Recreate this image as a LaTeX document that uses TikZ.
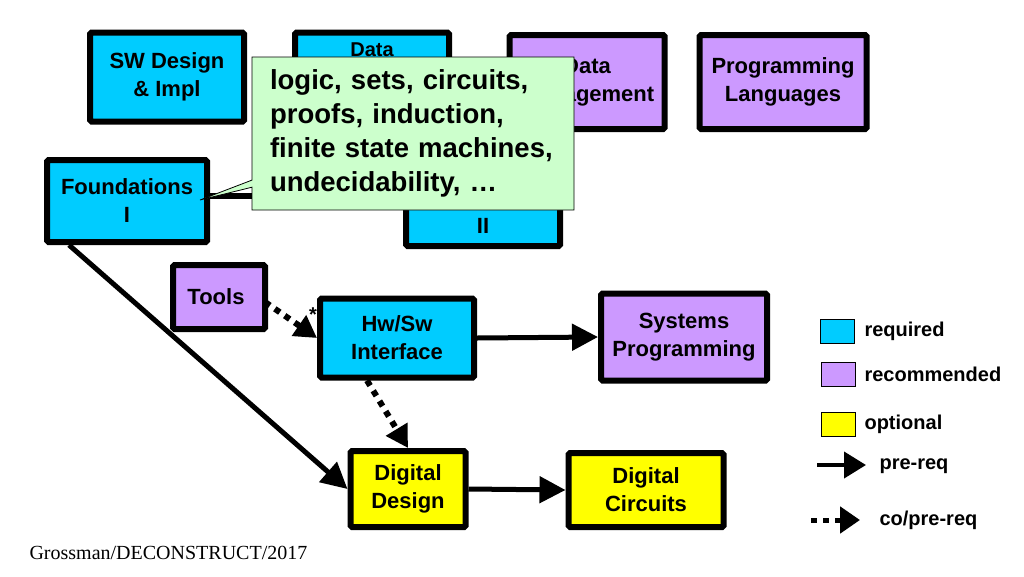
\documentclass[tikz,border=0pt]{standalone}
\usepackage{fontspec}
\setmainfont{Liberation Sans}
\usetikzlibrary{arrows.meta,shapes.callouts}
\definecolor{req}{RGB}{0,204,255}
\definecolor{rec}{RGB}{204,153,255}
\definecolor{opt}{RGB}{255,255,0}
\definecolor{callg}{RGB}{204,255,204}
\tikzset{
 bx/.style={draw=black,line width=6pt,rounded corners=1.5pt,align=center,font=\bfseries\fontsize{22}{28}\selectfont,inner sep=0pt},
 lg/.style={draw=black,line width=1pt,minimum width=34pt,minimum height=24pt,inner sep=0pt},
 lt/.style={anchor=west,font=\bfseries\fontsize{20}{22}\selectfont},
 arr/.style={line width=5pt,-{Triangle[length=26pt,width=26pt]}},
 darr/.style={line width=6pt,dash pattern=on 6pt off 6pt,-{Triangle[length=22pt,width=24pt]}},
}
\begin{document}
\begin{tikzpicture}[x=1pt,y=-1pt]
\useasboundingbox (0,0) rectangle (1024,576);
\node[bx,fill=req,minimum width=154pt,minimum height=89pt] (sw) at (167,77) {SW Design\\\& Impl};
\node[bx,fill=req,minimum width=154pt,minimum height=89pt] (ds) at (372,77) {};
\node[font=\bfseries\fontsize{20}{22}\selectfont] (dst) at (372,50) {Data};
\node[bx,fill=rec,minimum width=155pt,minimum height=94pt] (dm) at (587,82) {Data\\Management};
\node[bx,fill=rec,minimum width=167pt,minimum height=94pt] (pl) at (783,82) {Programming\\Languages};
\node[bx,fill=req,minimum width=160pt,minimum height=82pt] (f1) at (127,201) {Foundations\\I};
\node[bx,fill=req,minimum width=154pt,minimum height=68pt] (f2) at (483,212) {Foundations\\II};
\node[bx,fill=rec,minimum width=92pt,minimum height=64pt] (tl) at (219,297) {};
\node[font=\bfseries\fontsize{22}{24}\selectfont] (tlt) at (216,297) {Tools};
\node[bx,fill=req,minimum width=154pt,minimum height=79pt] (hw) at (397,338) {Hw/Sw\\Interface};
\node[bx,fill=rec,minimum width=166pt,minimum height=87pt] (sp) at (684,337) {Systems\\Programming};
\node[bx,fill=opt,minimum width=115pt,minimum height=76pt] (dd) at (408,489) {Digital\\Design};
\node[bx,fill=opt,minimum width=155pt,minimum height=74pt] (dc) at (646,490) {Digital\\Circuits};
\draw[arr,line width=6pt] (f1.east) ++(0,-5) coordinate (fa) -- (f2.west|-fa);
\draw[arr] (f1.south west) ++(25,0) coordinate (fb) -- (dd.west);
\draw[arr] (hw.east) -- (sp.west);
\draw[arr] (dd.east) -- (dc.west);
\draw[darr] (tl.east) ++(-3,5) coordinate (ta) -- (hw.west);
\node[font=\bfseries\fontsize{20}{20}\selectfont] (star) at (313,315) {*};
\draw[darr] (hw.south) ++(-30,0) coordinate (ha) -- (dd.north);
\node[rectangle callout,draw=black,line width=0.8pt,fill=callg,minimum width=322pt,minimum height=153pt,callout absolute pointer={(200,200)},align=left,font=\bfseries\fontsize{27.5}{34}\selectfont,inner sep=0pt,text width=286pt] (co) at (413,133.5) {logic, sets, circuits,\\proofs, induction,\\finite state machines,\\undecidability, \dots\\[14pt]};
\node[lg,fill=req] (l1) at (837,331) {};
\node[lg,fill=rec] (l2) at (838,374) {};
\node[lg,fill=opt] (l3) at (838,424) {};
\node[lt] at (861,331) {required};
\node[lt] at (861,374) {recommended};
\node[lt] at (861,424) {optional};
\coordinate (a1) at (817,465); \coordinate (a2) at (866,465);
\draw[arr,line width=4pt,-{Triangle[length=22pt,width=26pt]}] (a1) -- (a2);
\node[lt] at (876,466) {pre-req};
\coordinate (b1) at (811,520); \coordinate (b2) at (860,520);
\draw[darr,line width=5pt,-{Triangle[length=20pt,width=26pt]}] (b1) -- (b2);
\node[lt] at (876,520) {co/pre-req};
\node[anchor=west,font=\fontspec{Liberation Serif}\fontsize{20}{20}\selectfont] at (26,553) {Grossman/DECONSTRUCT/2017};
\end{tikzpicture}
\end{document}
